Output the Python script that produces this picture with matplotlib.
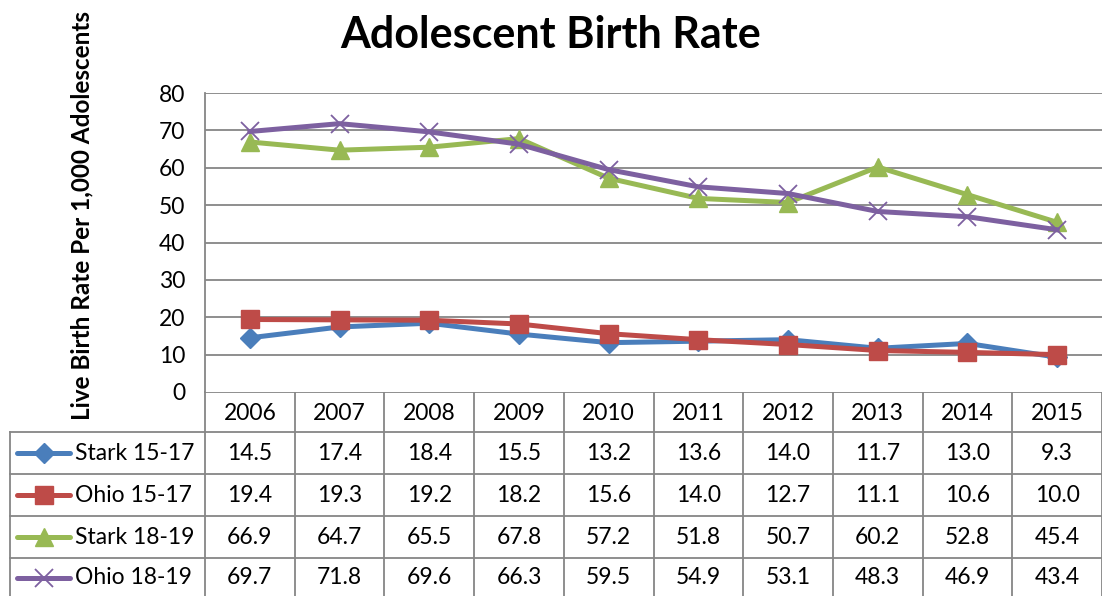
import matplotlib
matplotlib.use("Agg")
import matplotlib.pyplot as plt

years = ["2006", "2007", "2008", "2009", "2010", "2011", "2012", "2013", "2014", "2015"]
stark_15_17 = [14.5, 17.4, 18.4, 15.5, 13.2, 13.6, 14.0, 11.7, 13.0, 9.3]
ohio_15_17 = [19.4, 19.3, 19.2, 18.2, 15.6, 14.0, 12.7, 11.1, 10.6, 10.0]
stark_18_19 = [66.9, 64.7, 65.5, 67.8, 57.2, 51.8, 50.7, 60.2, 52.8, 45.4]
ohio_18_19 = [69.7, 71.8, 69.6, 66.3, 59.5, 54.9, 53.1, 48.3, 46.9, 43.4]
series_names = ["Stark 15-17", "Ohio 15-17", "Stark 18-19", "Ohio 18-19"]
series_values = [stark_15_17, ohio_15_17, stark_18_19, ohio_18_19]
y_ticks = [0, 10, 20, 30, 40, 50, 60, 70, 80]

colors = ["#4A7EBB", "#BE4B48", "#98B954", "#7D60A0"]
markers = ["D", "s", "^", "x"]
msizes = [10, 13, 13, 13]

FONT = "Lato"
FS = 16.5
W, H = 1102, 596
fig = plt.figure(figsize=(W / 100, H / 100), dpi=100)

# pixel layout
left_px, right_px, top_px, bottom_px = 205, 1102, 93, 392
ax = fig.add_axes([left_px / W, 1 - bottom_px / H, (right_px - left_px) / W, (bottom_px - top_px) / H])
n = len(years)
ax.set_xlim(-0.5, n - 0.5)
ax.set_ylim(0, 80)
ax.set_yticks(y_ticks)
ax.set_yticklabels([str(v) for v in y_ticks], fontsize=FS, family=FONT)
ax.set_xticks([])
ax.tick_params(axis="y", length=0, pad=14)
for s in ["top", "right", "bottom"]:
    ax.spines[s].set_visible(False)
ax.spines["left"].set_color("#868686")
ax.spines["left"].set_linewidth(1.3)
for v in y_ticks[1:]:
    ax.axhline(v, color="#868686", lw=1.3, zorder=0)

xs = list(range(n))
for vals, c, m, ms in zip(series_values, colors, markers, msizes):
    if m == "x":
        ax.plot(xs, vals, color=c, lw=3.6, marker=m, ms=ms, mew=1.3, zorder=3)
    else:
        ax.plot(xs, vals, color=c, lw=3.6, marker=m, ms=ms, mec=c, zorder=3)

# title and y label
fig.text(551 / W, 1 - 35 / H, "Adolescent Birth Rate", ha="center", va="center",
         fontsize=31, fontweight="bold", family=FONT)
fig.text(82 / W, 1 - 215 / H, "Live Birth Rate Per 1,000 Adolescents", ha="center", va="center",
         rotation=90, fontsize=17.5, fontweight="bold", family=FONT)

# data table drawn in pixel space
tx = fig.add_axes([0, 0, 1, 1], zorder=-1)
tx.set_xlim(0, W)
tx.set_ylim(H, 0)
tx.axis("off")
colw = (right_px - left_px) / n
row_edges = [392, 432, 474, 516, 558, 600]
label_left = 10
gc = "#868686"
lw = 1.3
tx.plot([left_px, W], [row_edges[0]] * 2, color=gc, lw=lw)
for y in row_edges[1:5]:
    tx.plot([label_left, W], [y, y], color=gc, lw=lw)
tx.plot([label_left, label_left], [row_edges[1], H], color=gc, lw=lw)
for i in range(n + 1):
    x = left_px + i * colw
    tx.plot([x, x], [row_edges[0], H], color=gc, lw=lw)
for i, yr in enumerate(years):
    xc = left_px + (i + 0.5) * colw
    tx.text(xc, (row_edges[0] + row_edges[1]) / 2 + 2, yr, ha="center", va="center",
            fontsize=FS, family=FONT)
for r, (name, vals, c, m, ms) in enumerate(zip(series_names, series_values, colors, markers, msizes)):
    yc = (row_edges[r + 1] + row_edges[r + 2]) / 2
    if r == 3:
        yc = (row_edges[4] + H) / 2 + 1
    tx.plot([17, 70], [yc, yc], color=c, lw=3.6, solid_capstyle="round")
    if m == "x":
        tx.plot([43.5], [yc], marker=m, color=c, ms=ms, mew=1.3)
    else:
        tx.plot([43.5], [yc], marker=m, color=c, ms=ms, mec=c)
    tx.text(75, yc, name, ha="left", va="center", fontsize=FS, family=FONT)
    for i, v in enumerate(vals):
        xc = left_px + (i + 0.5) * colw
        tx.text(xc, yc, f"{v:.1f}", ha="center", va="center", fontsize=FS, family=FONT)

fig.savefig("out.png", dpi=100)
